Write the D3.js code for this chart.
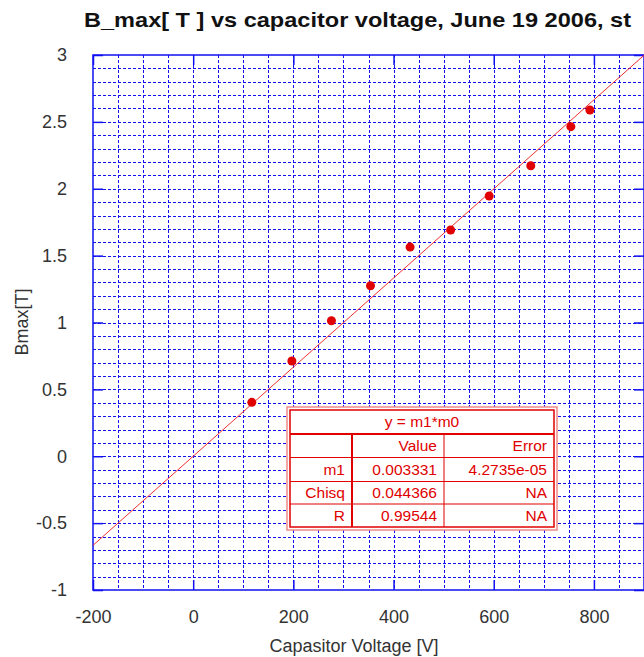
<!DOCTYPE html>
<html>
<head>
<meta charset="utf-8">
<script src="https://cdn.jsdelivr.net/npm/d3@7"></script>
<style>
  body { margin: 0; background: #fff; }
  text { font-family: "Liberation Sans", Arial, sans-serif; }
</style>
</head>
<body>
<div class="chart-container"></div>
<script>
// measured points
const voltage = [117, 197, 276, 354, 433, 514, 591, 674, 754, 792];
const bmax = [0.403, 0.712, 1.013, 1.275, 1.564, 1.692, 1.946, 2.172, 2.464, 2.589];

// fit y = m1*x
const fitSlope = 0.003331;
const fitRange = [-200, 900];

const xTicks = [-200, 0, 200, 400, 600, 800];
const yTicks = [-1, -0.5, 0, 0.5, 1, 1.5, 2, 2.5, 3];

// fit result table
const tableTitle = "y = m1*m0";
const tableHeader = ["", "Value", "Error"];
const tableRows = [
  ["m1", "0.003331", "4.2735e-05"],
  ["Chisq", "0.044366", "NA"],
  ["R", "0.99544", "NA"]
];

const width = 644, height = 657;
const blue = "#1010f0";
const red = "#e00000";

const svg = d3.select('.chart-container')
  .append('svg')
  .attr('width', width)
  .attr('height', height);

const xScale = d3.scaleLinear().domain([-200, 900]).range([93, 644]);
const yScale = d3.scaleLinear().domain([-1, 3]).range([590, 55]);

const plotLeft = xScale(-200), plotRight = xScale(900);
const plotTop = yScale(3), plotBottom = yScale(-1);

// snap to pixel centre so the dots stay sharp
const px = v => Math.round(v) + 0.5;

// dotted grid, every 50 V and every 0.1 T
const gx = d3.range(-150, 900, 50);
const gy = d3.range(-9, 30).map(i => i / 10);

const grid = svg.append('g')
  .attr('stroke', blue)
  .attr('stroke-width', 1.4)
  .attr('stroke-dasharray', '3,2')
  .attr('shape-rendering', 'crispEdges');

grid.selectAll('line.gx')
  .data(gx)
  .join('line')
  .attr('class', 'gx')
  .attr('x1', d => px(xScale(d))).attr('x2', d => px(xScale(d)))
  .attr('y1', plotTop).attr('y2', plotBottom);

grid.selectAll('line.gy')
  .data(gy)
  .join('line')
  .attr('class', 'gy')
  .attr('x1', plotLeft).attr('x2', plotRight)
  .attr('y1', d => px(yScale(d))).attr('y2', d => px(yScale(d)));

// axes with inside ticks on all four sides
const tickLen = 10;
const fmt = d => String(d);
const axisStyle = (g) => {
  g.select('.domain').remove();
  g.selectAll('.tick line').attr('stroke', blue).attr('stroke-width', 1.5);
  g.selectAll('.tick text')
    .attr('fill', '#333')
    .attr('font-size', 18)
    .attr('font-family', '"Liberation Sans", Arial, sans-serif');
};

svg.append('g')
  .attr('transform', 'translate(0,' + plotBottom + ')')
  .call(d3.axisBottom(xScale).tickValues(xTicks).tickFormat(fmt).tickSizeInner(-tickLen).tickSizeOuter(0).tickPadding(20))
  .call(axisStyle);

svg.append('g')
  .attr('transform', 'translate(0,' + plotTop + ')')
  .call(d3.axisTop(xScale).tickValues(xTicks).tickSizeInner(-tickLen).tickSizeOuter(0).tickFormat(''))
  .call(axisStyle);

svg.append('g')
  .attr('transform', 'translate(' + plotLeft + ',0)')
  .call(d3.axisLeft(yScale).tickValues(yTicks).tickFormat(fmt).tickSizeInner(-tickLen).tickSizeOuter(0).tickPadding(26))
  .call(axisStyle);

svg.append('g')
  .attr('transform', 'translate(' + plotRight + ',0)')
  .call(d3.axisRight(yScale).tickValues(yTicks).tickSizeInner(-tickLen).tickSizeOuter(0).tickFormat(''))
  .call(axisStyle);

// plot frame
svg.append('rect')
  .attr('x', plotLeft).attr('y', plotTop)
  .attr('width', plotRight - plotLeft).attr('height', plotBottom - plotTop)
  .attr('fill', 'none')
  .attr('stroke', blue)
  .attr('stroke-width', 1.5);

// fit line
const line = d3.line()
  .x(d => xScale(d))
  .y(d => yScale(fitSlope * d));

svg.append('path')
  .datum(fitRange)
  .attr('fill', 'none')
  .attr('stroke', '#f03030')
  .attr('stroke-width', 1)
  .attr('d', line);

// data points
svg.append('g').selectAll('circle')
  .data(voltage)
  .join('circle')
  .attr('cx', d => xScale(d))
  .attr('cy', (d, i) => yScale(bmax[i]))
  .attr('r', 4.5)
  .attr('fill', red);

// fit table
const tbl = svg.append('g');
const tx = 287, ty = 407, tw = 270, th = 123;
const colX = [290, 352, 444, 554];
const rowY = [410, 434, 457.5, 481.5, 504, 527];

tbl.append('rect')
  .attr('x', tx).attr('y', ty).attr('width', tw).attr('height', th)
  .attr('fill', '#fff').attr('stroke', '#f08a8a').attr('stroke-width', 1.5);
tbl.append('rect')
  .attr('x', colX[0]).attr('y', rowY[0])
  .attr('width', colX[3] - colX[0]).attr('height', rowY[5] - rowY[0])
  .attr('fill', 'none').attr('stroke', red).attr('stroke-width', 1.5);

// row lines (header separator thicker)
rowY.slice(1, 5).forEach((y, i) => {
  tbl.append('line')
    .attr('x1', colX[0]).attr('x2', colX[3])
    .attr('y1', y).attr('y2', y)
    .attr('stroke', red)
    .attr('stroke-width', i === 0 ? 2 : 1);
});
// column lines (first one thicker)
[colX[1], colX[2]].forEach((x, i) => {
  tbl.append('line')
    .attr('x1', x).attr('x2', x)
    .attr('y1', rowY[1]).attr('y2', rowY[5])
    .attr('stroke', red)
    .attr('stroke-width', i === 0 ? 2 : 1);
});

tbl.append('text')
  .attr('x', (colX[0] + colX[3]) / 2)
  .attr('y', (rowY[0] + rowY[1]) / 2)
  .attr('dy', '0.35em')
  .attr('text-anchor', 'middle')
  .attr('font-size', 15.5)
  .attr('fill', red)
  .text(tableTitle);

[tableHeader].concat(tableRows).forEach((row, r) => {
  row.forEach((cell, c) => {
    tbl.append('text')
      .attr('x', colX[c + 1] - 7)
      .attr('y', (rowY[r + 1] + rowY[r + 2]) / 2)
      .attr('dy', '0.35em')
      .attr('text-anchor', 'end')
      .attr('font-size', 15.5)
      .attr('fill', red)
      .text(cell);
  });
});

// titles
svg.append('text')
  .attr('x', 84).attr('y', 27)
  .attr('font-size', 21)
  .attr('font-weight', 'bold')
  .attr('fill', '#111')
  .attr('textLength', 547)
  .attr('lengthAdjust', 'spacingAndGlyphs')
  .text('B_max[ T ] vs capacitor voltage, June 19 2006, st');

svg.append('text')
  .attr('x', 354).attr('y', 652)
  .attr('text-anchor', 'middle')
  .attr('font-size', 18)
  .attr('fill', '#333')
  .text('Capasitor Voltage [V]');

svg.append('text')
  .attr('transform', 'translate(28,322) rotate(-90)')
  .attr('text-anchor', 'middle')
  .attr('font-size', 18)
  .attr('fill', '#333')
  .text('Bmax[T]');
</script>
</body>
</html>
